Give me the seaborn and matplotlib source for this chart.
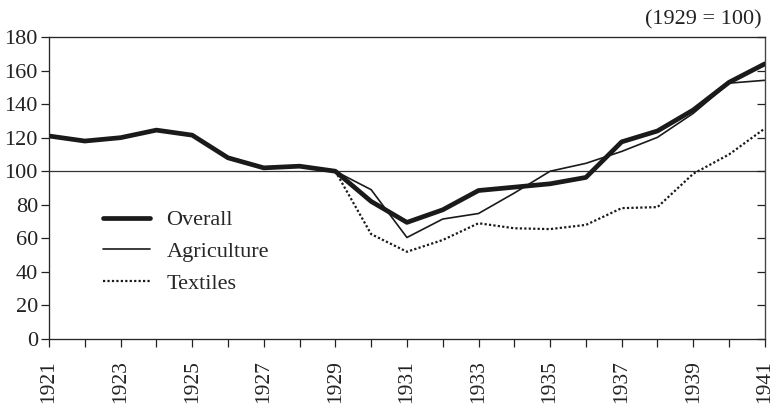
import matplotlib
matplotlib.use("Agg")
import matplotlib.pyplot as plt
import seaborn as sns
import pandas as pd

years = list(range(1921, 1942))
overall = [121, 118, 120, 124.5, 121.5, 108, 102, 103, 100, 82, 69.5, 77,
           88.5, 90.5, 92.5, 96.3, 117.5, 124, 136.5, 153, 164]
sub_years = list(range(1929, 1942))
agriculture = [100, 89, 60.5, 71.5, 74.8, 87, 100, 104.7, 111.8, 120.2, 134.5, 152.5, 154.2]
textiles = [100, 62.5, 52, 59, 69, 66, 65.5, 68, 78, 78.6, 98.5, 110, 125.5]

sns.set_style("white")
plt.rcParams['font.family'] = ['Liberation Serif', 'DejaVu Serif']
plt.rcParams['font.size'] = 16

fig = plt.figure(figsize=(7.71, 4.05), dpi=100)
ax = fig.add_axes([0.0636, 0.163, 0.9284, 0.7456])

ax.axhline(100, color='#333333', lw=0.9, zorder=1)
sns.lineplot(x=years, y=overall, ax=ax, color='#1a1a1a', lw=3.4, label='Overall', zorder=3)
sns.lineplot(x=sub_years, y=agriculture, ax=ax, color='#1a1a1a', lw=1.2, label='Agriculture', zorder=2)
sns.lineplot(x=sub_years, y=textiles, ax=ax, color='#1a1a1a', lw=1.6, ls=(0, (1, 1)), label='Textiles', zorder=2)

ax.set_xlim(1921, 1941)
ax.set_ylim(0, 180)
ax.set_xticks(years)
ax.set_xticklabels([str(y) if (y - 1921) % 2 == 0 else '' for y in years], rotation=90)
ax.set_yticks(range(0, 181, 20))
ax.tick_params(axis='y', direction='out', length=6, width=0.9, color='#222222',
               labelcolor='#222222', pad=2, left=True, labelsize=16)
ax.tick_params(axis='x', direction='out', length=6, width=0.9, color='#222222',
               labelcolor='#222222', pad=9, bottom=True, labelsize=15.5)
for s in ax.spines.values():
    s.set_color('#444444')
    s.set_linewidth(0.9)

ax2 = ax.twinx()
ax2.set_ylim(0, 180)
ax2.set_yticks(range(0, 181, 20))
ax2.tick_params(axis='y', direction='in', length=6, width=0.9, color='#222222', labelright=False)
ax2.spines['right'].set_color('#444444')

ax.set_xlabel('')
ax.set_ylabel('')
ax.legend(loc='upper left', bbox_to_anchor=(0.063, 0.457), frameon=False, handlelength=2.1,
          handletextpad=0.75, labelspacing=0.5, fontsize=16, borderaxespad=0)

fig.text(0.988, 0.951, '(1929 = 100)', ha='right', va='center', fontsize=16, color='#222222')

fig.savefig('out.png', dpi=100)
